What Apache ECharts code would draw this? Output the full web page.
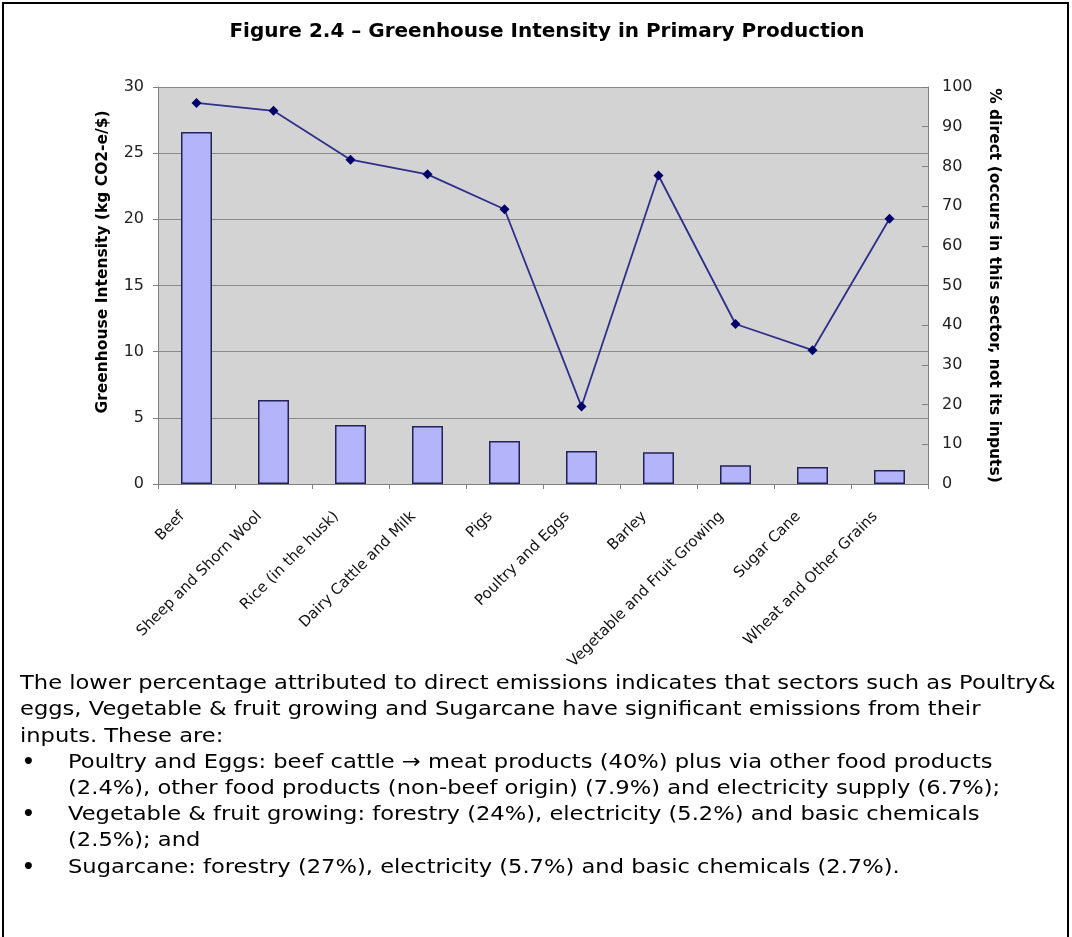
<!DOCTYPE html>
<html>
<head>
<meta charset="utf-8">
<script src="https://cdn.jsdelivr.net/npm/echarts@6/dist/echarts.min.js"></script>
<style>
html,body{margin:0;padding:0;background:#fff;}
#main{width:1072px;height:937px;}
</style>
</head>
<body>
<div id="main"></div>
<script>
// sectors, left axis = intensity, right axis = % direct
const sectors = ['Beef', 'Sheep and Shorn Wool', 'Rice (in the husk)', 'Dairy Cattle and Milk', 'Pigs',
	'Poultry and Eggs', 'Barley', 'Vegetable and Fruit Growing', 'Sugar Cane', 'Wheat and Other Grains'];
const intensity = [26.6, 6.35, 4.45, 4.38, 3.25, 2.49, 2.4, 1.41, 1.28, 1.06];
const pctDirect = [96.0, 94.0, 81.7, 78.0, 69.2, 19.5, 77.7, 40.3, 33.7, 66.8];

const titleText = 'Figure 2.4 \u2013 Greenhouse Intensity in Primary Production';
const leftName = 'Greenhouse Intensity (kg CO2-e/$)';
const rightName = '% direct (occurs in this sector, not its inputs)';

const paraLines = [
	'The lower percentage attributed to direct emissions indicates that sectors such as Poultry&',
	'eggs, Vegetable & fruit growing and Sugarcane have significant emissions from their',
	'inputs. These are:'
];
const bulletLines = [
	['Poultry and Eggs: beef cattle \u2192 meat products (40%) plus via other food products',
	 '(2.4%), other food products (non-beef origin) (7.9%) and electricity supply (6.7%);'],
	['Vegetable & fruit growing: forestry (24%), electricity (5.2%) and basic chemicals',
	 '(2.5%); and'],
	['Sugarcane: forestry (27%), electricity (5.7%) and basic chemicals (2.7%).']
];

const FONT = '"DejaVu Sans", sans-serif';
let textFont = 20, textScale = 1.13;

function buildGraphic(){
	let g = [];
	g.push({type:'rect', shape:{x:3, y:3, width:1065, height:960},
		style:{fill:'none', stroke:'#000', lineWidth:2}, silent:true});
	g.push({type:'text', x:547, y:32, style:{text:titleText, font:'bold 20px '+FONT,
		fill:'#000', textAlign:'center', textVerticalAlign:'middle'}});
	// left axis name, sits a bit above the plot centre in the original
	g.push({type:'text', x:103, y:262, rotation:Math.PI/2, style:{text:leftName, font:'bold 15.5px '+FONT,
		fill:'#000', textAlign:'center', textVerticalAlign:'middle'}});
	let y = 684;
	paraLines.forEach(function(t){
		g.push({type:'text', x:20, y:y, scaleX:textScale, style:{text:t, font:textFont+'px '+FONT, fill:'#000', textVerticalAlign:'middle'}});
		y += 26.2;
	});
	bulletLines.forEach(function(item){
		g.push({type:'text', x:22, y:y, style:{text:'\u2022', font:'bold '+textFont+'px '+FONT, fill:'#000', textVerticalAlign:'middle'}});
		item.forEach(function(t){
			g.push({type:'text', x:68, y:y, scaleX:textScale, style:{text:t, font:textFont+'px '+FONT, fill:'#000', textVerticalAlign:'middle'}});
			y += 26.2;
		});
	});
	return g;
}

let myChart = echarts.init(document.getElementById('main'));
let option = {
	backgroundColor:'#fff',
	animation:false,
	textStyle:{fontFamily:FONT},
	grid:{left:158, top:87, width:770, height:397, show:true, backgroundColor:'#d3d3d3', borderWidth:0},
	xAxis:{
		type:'category', data:sectors,
		axisLine:{lineStyle:{color:'#808080', width:1}},
		axisTick:{show:true, length:5, lineStyle:{color:'#808080'}},
		axisLabel:{rotate:45, fontSize:15, color:'#111', margin:16, padding:[0,20,0,0], interval:0, fontFamily:FONT}
	},
	yAxis:[{
		type:'value', min:0, max:30, interval:5, position:'left',
		axisLine:{show:true, lineStyle:{color:'#808080'}},
		axisTick:{show:true, length:5, lineStyle:{color:'#808080'}},
		axisLabel:{fontSize:16, color:'#222', margin:14},
		splitLine:{show:true, lineStyle:{color:'#8a8a8a', width:1}}
	},{
		type:'value', min:0, max:100, interval:10, position:'right',
		name:rightName, nameLocation:'middle', nameRotate:-90, nameGap:58,
		nameTextStyle:{fontWeight:'bold', fontSize:15.5, color:'#000', fontFamily:FONT},
		axisLine:{show:true, lineStyle:{color:'#808080'}},
		axisTick:{show:true, inside:true, length:6, lineStyle:{color:'#808080'}},
		axisLabel:{fontSize:16, color:'#222', margin:14},
		splitLine:{show:false}
	}],
	series:[{
		type:'bar', data:intensity, yAxisIndex:0, barWidth:31,
		itemStyle:{color:'#b4b4fb', borderColor:'#23235a', borderWidth:1.5}
	},{
		type:'line', data:pctDirect, yAxisIndex:1,
		symbol:'diamond', symbolSize:10,
		lineStyle:{color:'#2e2e8c', width:1.8},
		itemStyle:{color:'#00006b'}
	}],
	graphic:buildGraphic()
};
myChart.setOption(option);
</script>
</body>
</html>
